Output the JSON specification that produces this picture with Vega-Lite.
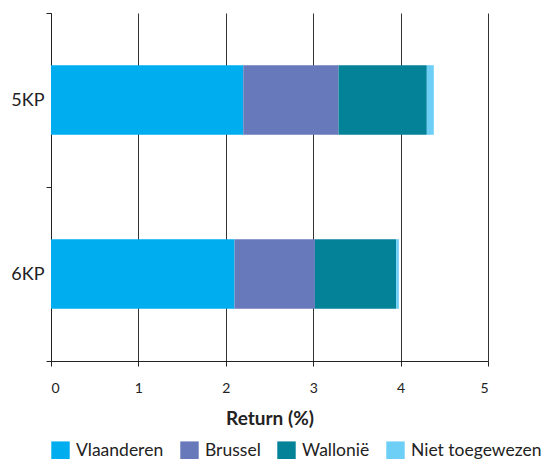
{
  "$schema": "https://vega.github.io/schema/vega-lite/v6.json",
  "width": 437,
  "height": 348,
  "autosize": {"type": "none"},
  "padding": {"left": 51, "top": 13, "right": 56, "bottom": 98},
  "background": "white",
  "config": {
    "view": {"stroke": null},
    "font": "Lato"
  },
  "data": {
    "values": [
      {"programma": "5KP", "regio": "Vlaanderen", "volgorde": 1, "return": 2.2},
      {"programma": "5KP", "regio": "Brussel", "volgorde": 2, "return": 1.09},
      {"programma": "5KP", "regio": "Wallonië", "volgorde": 3, "return": 1.01},
      {"programma": "5KP", "regio": "Niet toegewezen", "volgorde": 4, "return": 0.08},
      {"programma": "6KP", "regio": "Vlaanderen", "volgorde": 1, "return": 2.1},
      {"programma": "6KP", "regio": "Brussel", "volgorde": 2, "return": 0.92},
      {"programma": "6KP", "regio": "Wallonië", "volgorde": 3, "return": 0.93},
      {"programma": "6KP", "regio": "Niet toegewezen", "volgorde": 4, "return": 0.03}
    ]
  },
  "mark": {"type": "bar", "height": {"band": 0.4}},
  "encoding": {
    "y": {
      "field": "programma",
      "type": "nominal",
      "sort": ["5KP", "6KP"],
      "scale": {"paddingInner": 0, "paddingOuter": 0},
      "axis": {
        "title": null,
        "tickBand": "extent",
        "domainColor": "#222",
        "tickColor": "#222",
        "tickSize": 5,
        "labelFontSize": 18,
        "labelColor": "#222",
        "labelPadding": 2,
        "grid": false
      }
    },
    "x": {
      "field": "return",
      "type": "quantitative",
      "stack": "zero",
      "scale": {"domain": [0, 5], "nice": false},
      "axis": {
        "title": "Return (%)",
        "titleFontSize": 19,
        "titleFontWeight": "bold",
        "titleColor": "#222",
        "titlePadding": 14,
        "values": [0, 1, 2, 3, 4, 5],
        "format": "d",
        "grid": true,
        "gridColor": "#333",
        "gridWidth": 1,
        "domainColor": "#222",
        "tickColor": "#222",
        "tickSize": 5,
        "labelFontSize": 14,
        "labelColor": "#222",
        "labelPadding": 15
      }
    },
    "color": {
      "field": "regio",
      "type": "nominal",
      "scale": {
        "domain": ["Vlaanderen", "Brussel", "Wallonië", "Niet toegewezen"],
        "range": ["#00AEEF", "#6779BA", "#038298", "#6DCFF6"]
      },
      "legend": {
        "title": null,
        "orient": "none",
        "legendX": 0,
        "legendY": 428,
        "direction": "horizontal",
        "symbolType": "square",
        "symbolSize": 340,
        "symbolStrokeWidth": 0,
        "labelFontSize": 17.5,
        "labelColor": "#222",
        "labelOffset": 6,
        "columnPadding": 16
      }
    },
    "order": {"field": "volgorde", "type": "quantitative"}
  }
}
